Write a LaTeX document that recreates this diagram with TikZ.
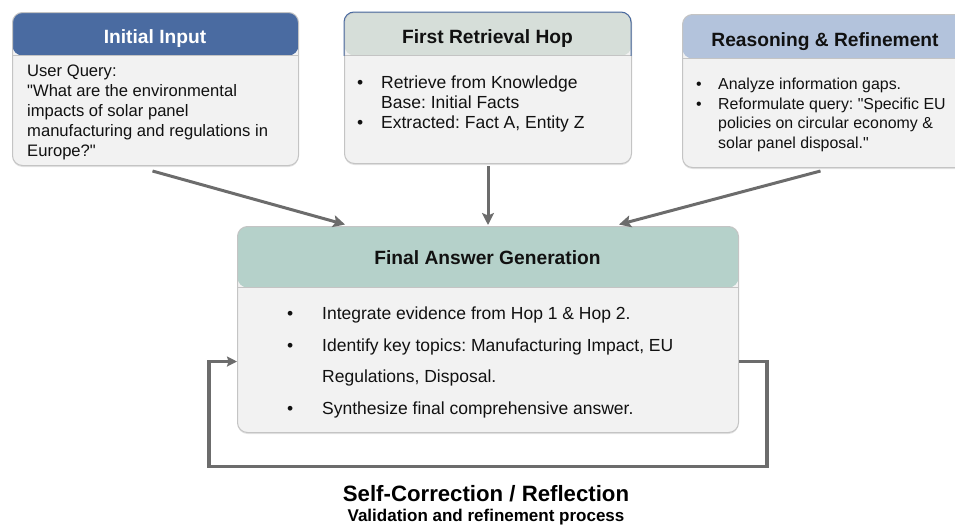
\documentclass[tikz,border=0pt]{standalone}
\usepackage{fontspec}
\setmainfont{Liberation Sans}[Ligatures=TeXOff]
\usetikzlibrary{arrows.meta,shadows}
\frenchspacing

\definecolor{hdrblue}{HTML}{4A6BA1}
\definecolor{hdrsage}{HTML}{D6DED9}
\definecolor{hdrsky}{HTML}{B3C3DC}
\definecolor{hdrteal}{HTML}{B5D1CA}
\definecolor{bodyfill}{HTML}{F2F2F2}
\definecolor{edge}{HTML}{C4C4C4}
\definecolor{flow}{HTML}{6C6C6C}
\definecolor{ink}{HTML}{111111}

\tikzset{
  card/.style 2 args={draw=edge, line width=1pt, fill=bodyfill, rounded corners=10pt,
    inner sep=0pt, anchor=north west,
    drop shadow={shadow xshift=0pt, shadow yshift=-1.5pt, opacity=0.22},
    path picture={
      \fill[#2] (path picture bounding box.north west) rectangle
        ([yshift=-#1]path picture bounding box.north east);
      \draw[edge, line width=0.6pt] ([yshift=-#1]path picture bounding box.north west) --
        ([yshift=-#1]path picture bounding box.north east);}},
  hdr/.style={inner sep=0pt, anchor=base, text=ink, font=\fontsize{19.2}{22}\selectfont\bfseries},
  qline/.style={inner sep=0pt, anchor=base west, text=ink, font=\fontsize{16.6}{20}\selectfont},
  hopline/.style={inner sep=0pt, anchor=base west, text=ink, font=\fontsize{17.5}{20}\selectfont},
  refline/.style={inner sep=0pt, anchor=base west, text=ink, font=\fontsize{15.9}{20}\selectfont},
  ansline/.style={inner sep=0pt, anchor=base west, text=ink, font=\fontsize{17.5}{20}\selectfont},
  flowline/.style={draw=flow, line width=3pt, -{Stealth[length=12pt,width=12pt,inset=2.5pt]}},
  loopline/.style={draw=flow, line width=3.2pt, -{Stealth[length=10pt,width=10pt,inset=1.5pt]}},
  caption/.style={inner sep=0pt, anchor=base, text=black, font=\fontsize{22.2}{24}\selectfont\bfseries},
  subcaption/.style={inner sep=0pt, anchor=base, text=black, font=\fontsize{17}{19}\selectfont\bfseries},
}

\begin{document}
\begin{tikzpicture}[x=1pt,y=-1pt]
\useasboundingbox (0,0) rectangle (955,525);

% ---- cards ----
\node[card={43pt}{hdrblue}, minimum width=286pt, minimum height=153pt] (init) at (12,12) {};
\node[card={43pt}{hdrsage}, minimum width=287pt, minimum height=151pt] (first) at (344,12) {};
\begin{scope}
  \clip (340,8) rectangle (636,55);
  \draw[hdrblue, line width=1pt, rounded corners=10pt] (344,163) rectangle (631,12);
\end{scope}
\node[card={44pt}{hdrsky}, minimum width=286pt, minimum height=153pt] (reason) at (682,14) {};
\node[card={61pt}{hdrteal}, minimum width=501pt, minimum height=206pt] (final) at (237,226) {};

% ---- headers ----
\node[hdr, text=white] (initT) at (155,43) {Initial Input};
\node[hdr] (firstT) at (487.5,43) {First Retrieval Hop};
\node[hdr] (reasonT) at (825,46) {Reasoning \& Refinement};
\node[hdr] (finalT) at (487.5,264) {Final Answer Generation};

% ---- initial input text ----
\node[qline] (q1) at (27,76) {User Query:};
\node[qline] (q2) at (27,96) {"What are the environmental};
\node[qline] (q3) at (27,116) {impacts of solar panel};
\node[qline] (q4) at (27,136) {manufacturing and regulations in};
\node[qline] (q5) at (27,156) {Europe?"};

% ---- first retrieval hop text ----
\node[hopline] (h1b) at (357,88) {\textbullet};
\node[hopline] (h1) at (381,88) {Retrieve from Knowledge};
\node[hopline] (h2) at (381,108) {Base: Initial Facts};
\node[hopline] (h3b) at (357,128) {\textbullet};
\node[hopline] (h3) at (381,128) {Extracted: Fact A, Entity Z};

% ---- reasoning text ----
\node[refline] (r1b) at (696,89) {\textbullet};
\node[refline] (r1) at (718,89) {Analyze information gaps.};
\node[refline] (r2b) at (696,109) {\textbullet};
\node[refline] (r2) at (718,109) {Reformulate query: "Specific EU};
\node[refline] (r3) at (718,128.5) {policies on circular economy \&};
\node[refline] (r4) at (718,148) {solar panel disposal."};

% ---- final answer text ----
\node[ansline] (a1b) at (287,319) {\textbullet};
\node[ansline] (a1) at (322,319) {Integrate evidence from Hop 1 \& Hop 2.};
\node[ansline] (a2b) at (287,351) {\textbullet};
\node[ansline] (a2) at (322,351) {Identify key topics: Manufacturing Impact, EU};
\node[ansline] (a3) at (322,382.5) {Regulations, Disposal.};
\node[ansline] (a4b) at (287,414) {\textbullet};
\node[ansline] (a4) at (322,414) {Synthesize final comprehensive answer.};

% ---- connectors ----
\draw[flowline] ([xshift=-3pt,yshift=-5pt]init.south) -- ([xshift=-143pt,yshift=1.5pt]final.north);
\draw[flowline] ([yshift=-2pt]first.south) -- ([yshift=1pt]final.north);
\draw[flowline] ([xshift=-5pt,yshift=-3pt]reason.south) -- ([xshift=131pt,yshift=1.5pt]final.north);

% ---- self-correction loop ----
\draw[loopline] ([yshift=-32pt]final.east) -- ++(28,0) -- ++(0,105) -- ++(-558,0) -- ++(0,-105)
  -- ([yshift=-32pt]final.west);

\node[caption] (loopT) at (486,501) {Self-Correction / Reflection};
\node[subcaption] (loopS) at (486,521) {Validation and refinement process};
\end{tikzpicture}
\end{document}
